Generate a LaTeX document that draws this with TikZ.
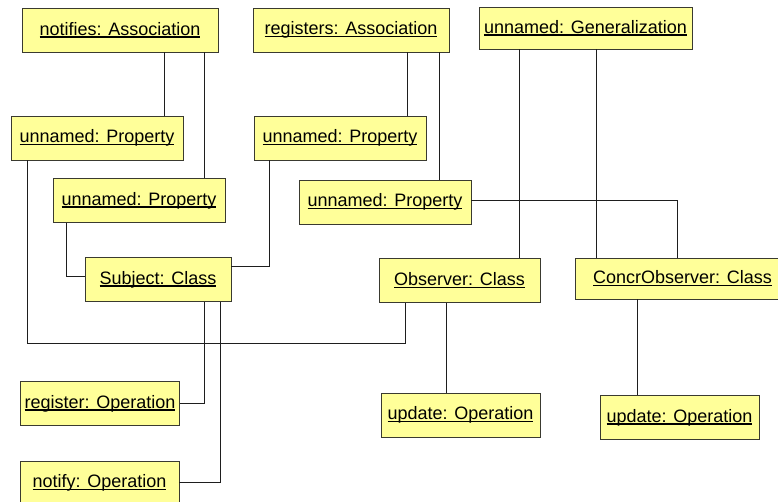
\documentclass[tikz,border=0pt]{standalone}
\usepackage{fontspec}
\setmainfont{Liberation Sans}
\usetikzlibrary{positioning}
\definecolor{UmlYellow}{HTML}{FFFF99}
\definecolor{UmlBorder}{HTML}{3A3A30}
\definecolor{UmlLine}{HTML}{1E1E1E}
\newcommand{\umlul}[1]{\setbox0=\hbox{#1}\rlap{\rule[-2.6pt]{\wd0}{1.4pt}}\box0}
\tikzset{
    % Object box
    objnode/.style={
        draw=UmlBorder,
        fill=UmlYellow,
        line width=0.8pt,
        minimum height=44pt,
        inner sep=0pt,
        align=center,
        font=\fontsize{18}{20}\selectfont
    },
    % Property box
    propnode/.style={
        objnode,
        minimum width=172pt
    },
    % Operation box
    opnode/.style={
        objnode,
        minimum width=159pt
    },
    % Connector
    link/.style={
        line width=0.8pt,
        draw=UmlLine
    }
}
\begin{document}
\begin{tikzpicture}[x=1pt, y=-1pt]
        \useasboundingbox (0,0) rectangle (778,501);

        % Associations and generalization
        \node[objnode, minimum width=196pt] (na) at (120,30) {\umlul{notifies: Association}};
        \node[objnode, minimum width=196pt] (ra) at (351,30) {\umlul{registers: Association}};
        \node[objnode, minimum width=213pt, minimum height=42pt] (gen) at (585.5,28) {\umlul{unnamed: Generalization}};

        % Properties
        \node[propnode] (p1) at (97,138) {\umlul{unnamed: Property}};
        \node[propnode] (p3) at (340,138) {\umlul{unnamed: Property}};
        \node[propnode] (p2) at (139,200.5) {\umlul{unnamed: Property}};
        \node[propnode] (p4) at (385,202) {\umlul{unnamed: Property}};

        % Classes
        \node[objnode, minimum width=146pt] (subj) at (158,279.5) {\umlul{Subject: Class}};
        \node[objnode, minimum width=161pt] (obs) at (459.5,280.5) {\umlul{Observer: Class}};
        \node[objnode, minimum width=215pt, minimum height=41pt] (concr) at (682.5,278.5) {\umlul{ConcrObserver: Class}};

        % Operations
        \node[opnode] (reg) at (100,403.5) {\umlul{register: Operation}};
        \node[opnode] (notify) at (99.5,483) {\umlul{notify: Operation}};
        \node[opnode] (upd1) at (460.5,415) {\umlul{update: Operation}};
        \node[opnode] (upd2) at (679.5,417.5) {\umlul{update: Operation}};

        % Association ends
        \draw[link] (na.south -| 164,0) -- (p1.north -| 164,0);
        \draw[link] (na.south -| 204,0) -- (p2.north -| 204,0);
        \draw[link] (ra.south -| 407,0) -- (p3.north -| 407,0);
        \draw[link] (ra.south -| 439,0) -- (p4.north -| 439,0);

        % Generalization
        \draw[link] (gen.south -| 519,0) -- (obs.north -| 519,0);
        \draw[link] (gen.south -| 596,0) -- (concr.north -| 596,0);

        % Property types
        \draw[link] ([yshift=2pt]p4.east) -| (concr.north -| 677,0);
        \draw[link] (p2.south -| 66,0) |- ([yshift=3.5pt]subj.west);
        \draw[link] ([yshift=13.5pt]subj.east) -| (p3.south -| 269,0);
        \draw[link] (p1.south -| 27,0) |- (405,343) -- (obs.south -| 405,0);

        % Owned operations
        \draw[link] (subj.south -| 204,0) |- (reg.east);
        \draw[link] (subj.south -| 220,0) |- ([yshift=1pt]notify.east);
        \draw[link] (obs.south -| 446,0) -- (upd1.north -| 446,0);
        \draw[link] (concr.south -| 637,0) -- (upd2.north -| 637,0);
    \end{tikzpicture}
\end{document}
